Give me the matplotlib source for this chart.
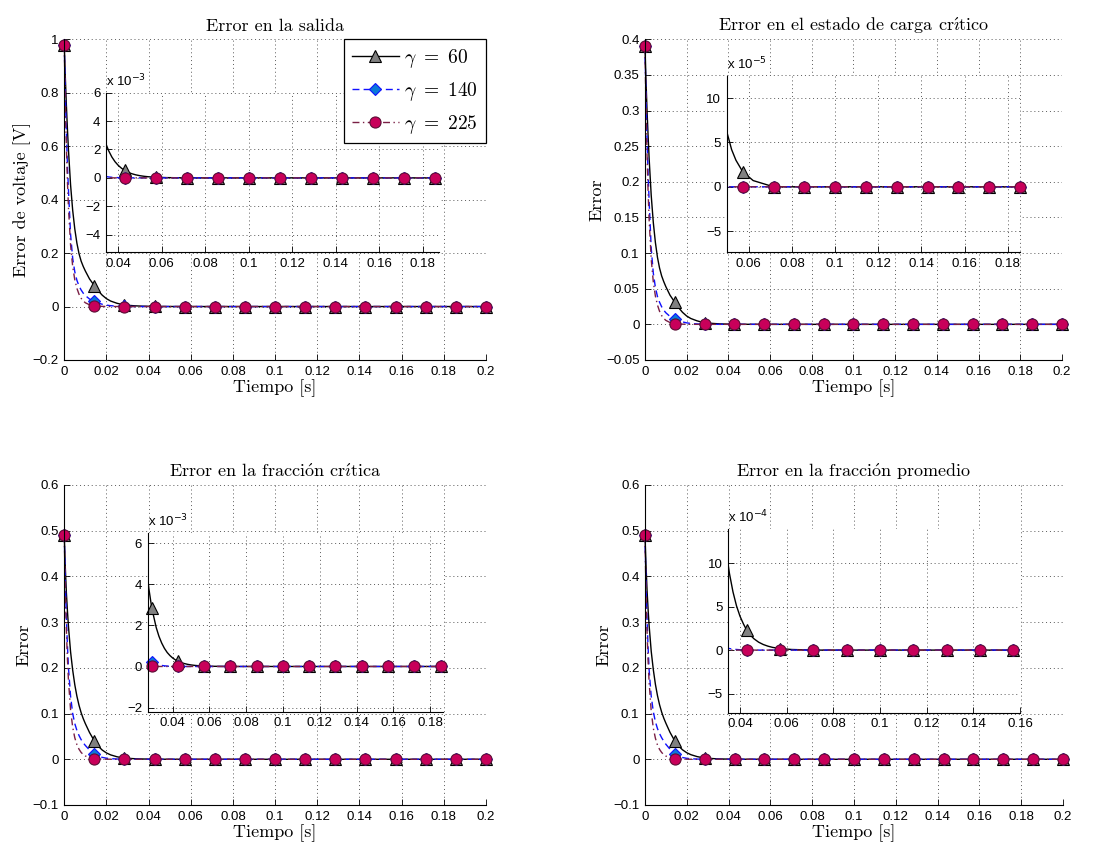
import numpy as np
import matplotlib
matplotlib.use("Agg")
import matplotlib.pyplot as plt
from matplotlib.lines import Line2D
from matplotlib.ticker import FuncFormatter, MultipleLocator

plt.rcParams['font.family'] = 'Liberation Sans'
plt.rcParams['mathtext.fontset'] = 'cm'

serif = ['cmr10', 'DejaVu Serif']

# tiempo de simulacion (s) y marcas cada 0.2/14 s
t = [0, 0.0005, 0.001, 0.0015, 0.002, 0.003, 0.004, 0.005, 0.006, 0.007,
     0.008, 0.009, 0.010, 0.012, 0.01429, 0.016, 0.018, 0.020, 0.022, 0.025,
     0.027, 0.02857, 0.031, 0.0325, 0.034, 0.0355, 0.037, 0.0385, 0.040, 0.0415,
     0.04286, 0.0445, 0.046, 0.048, 0.050, 0.052, 0.054, 0.05714, 0.062, 0.07143,
     0.08571, 0.1, 0.11429, 0.12857, 0.14286, 0.15714, 0.17143, 0.18571, 0.2]
t_marcas = [0, 0.01429, 0.02857, 0.04286, 0.05714, 0.07143, 0.08571, 0.1,
            0.11429, 0.12857, 0.14286, 0.15714, 0.17143, 0.18571, 0.2]

# error en la salida
salida_60 = [0.98, 0.86, 0.755, 0.665, 0.585, 0.455, 0.36, 0.29, 0.237, 0.198,
             0.17, 0.15, 0.133, 0.103, 0.078, 0.060, 0.0425, 0.0295, 0.0205, 0.0122,
             0.0085, 0.0064, 0.0042, 0.00324, 0.0025, 0.00192, 0.00147, 0.00113, 0.00087, 0.00067,
             0.00053, 0.000395, 0.0003, 0.000212, 0.00015, 0.000106, 7.5e-5, 4.3e-5, 1.8e-5, 0,
             0, 0, 0, 0, 0, 0, 0, 0, 0]
salida_140 = [0.98, 0.80, 0.65, 0.53, 0.435, 0.27, 0.18, 0.13, 0.098, 0.077,
              0.062, 0.05, 0.041, 0.028, 0.019, 0.0135, 0.0085, 0.0052, 0.0031, 0.0014,
              0.00079, 0.0005, 0.00025, 0.00016, 0.0001, 6.3e-5, 4e-5, 2.4e-5, 1.5e-5, 8e-6,
              0, 0, 0, 0, 0, 0, 0, 0, 0, 0,
              0, 0, 0, 0, 0, 0, 0, 0, 0]
salida_225 = [0.98, 0.76, 0.60, 0.47, 0.37, 0.23, 0.15, 0.10, 0.068, 0.046,
              0.031, 0.021, 0.014, 0.0065, 0.0028, 0.0014, 0.0006, 0.00025, 0.0001, 3e-5,
              1e-5, 0, 0, 0, 0, 0, 0, 0, 0, 0,
              0, 0, 0, 0, 0, 0, 0, 0, 0, 0,
              0, 0, 0, 0, 0, 0, 0, 0, 0]

# error en el estado de carga critico
soc_60 = [0.39, 0.342, 0.300, 0.265, 0.233, 0.181, 0.143, 0.115, 0.094, 0.079,
          0.068, 0.060, 0.053, 0.041, 0.031, 0.0239, 0.0169, 0.0117, 0.0082, 0.0049,
          0.00336, 0.0025, 0.00167, 0.00129, 0.0010, 0.00076, 0.00058, 0.00045, 0.00035, 0.00027,
          0.00021, 0.000157, 0.00012, 8.5e-5, 6e-5, 4.2e-5, 3e-5, 1.7e-5, 7e-6, 0,
          0, 0, 0, 0, 0, 0, 0, 0, 0]
soc_140 = [0.39, 0.318, 0.259, 0.211, 0.173, 0.107, 0.072, 0.052, 0.039, 0.031,
           0.0247, 0.0199, 0.0163, 0.0111, 0.0076, 0.0054, 0.0034, 0.0021, 0.00123, 0.00056,
           0.000315, 0.0002, 0.0001, 6.3e-5, 4e-5, 2.5e-5, 1.6e-5, 1e-5, 6e-6, 3e-6,
           0, 0, 0, 0, 0, 0, 0, 0, 0, 0,
           0, 0, 0, 0, 0, 0, 0, 0, 0]
soc_225 = [0.39, 0.302, 0.239, 0.187, 0.147, 0.0915, 0.0597, 0.0398, 0.0271, 0.0183,
           0.0123, 0.0084, 0.0056, 0.0026, 0.0011, 0.00056, 0.00024, 0.0001, 4e-5, 1.2e-5,
           4e-6, 0, 0, 0, 0, 0, 0, 0, 0, 0,
           0, 0, 0, 0, 0, 0, 0, 0, 0, 0,
           0, 0, 0, 0, 0, 0, 0, 0, 0]

# error en la fraccion critica
crit_60 = [0.49, 0.42, 0.365, 0.325, 0.29, 0.235, 0.195, 0.163, 0.138, 0.118,
           0.102, 0.089, 0.078, 0.0584, 0.040, 0.0292, 0.0202, 0.0139, 0.0096, 0.0055,
           0.0038, 0.00286, 0.0019, 0.00147, 0.00114, 0.00088, 0.00068, 0.00053, 0.00041, 0.00032,
           0.00025, 0.00019, 0.00015, 0.000106, 7.5e-5, 5.3e-5, 3.8e-5, 2e-5, 9e-6, 0,
           0, 0, 0, 0, 0, 0, 0, 0, 0]
crit_140 = [0.49, 0.39, 0.31, 0.25, 0.20, 0.138, 0.100, 0.078, 0.063, 0.052,
            0.043, 0.036, 0.0302, 0.0202, 0.0115, 0.0072, 0.00415, 0.0024, 0.00138, 0.0006,
            0.00036, 0.00024, 0.00012, 7.7e-5, 5e-5, 3.2e-5, 2e-5, 1.3e-5, 8e-6, 4e-6,
            0, 0, 0, 0, 0, 0, 0, 0, 0, 0,
            0, 0, 0, 0, 0, 0, 0, 0, 0]
crit_225 = [0.49, 0.37, 0.285, 0.22, 0.172, 0.108, 0.07, 0.047, 0.032, 0.022,
            0.015, 0.0104, 0.0072, 0.0035, 0.0016, 0.0008, 0.00035, 0.00015, 6e-5, 2e-5,
            7e-6, 0, 0, 0, 0, 0, 0, 0, 0, 0,
            0, 0, 0, 0, 0, 0, 0, 0, 0, 0,
            0, 0, 0, 0, 0, 0, 0, 0, 0]

# error en la fraccion promedio
prom_60 = [0.49, 0.425, 0.37, 0.328, 0.292, 0.236, 0.196, 0.164, 0.139, 0.119,
           0.103, 0.09, 0.079, 0.0588, 0.040, 0.0295, 0.0206, 0.0143, 0.0100, 0.0058,
           0.00405, 0.00306, 0.00197, 0.0015, 0.00115, 0.00088, 0.00067, 0.00051, 0.00039, 0.0003,
           0.00023, 0.000171, 0.00013, 9.1e-5, 6.4e-5, 4.5e-5, 3.1e-5, 1.8e-5, 7e-6, 0,
           0, 0, 0, 0, 0, 0, 0, 0, 0]
prom_140 = [0.49, 0.385, 0.305, 0.245, 0.195, 0.138, 0.104, 0.082, 0.067, 0.056,
            0.047, 0.0395, 0.0329, 0.0219, 0.012, 0.0071, 0.00384, 0.00207, 0.00111, 0.00044,
            0.00024, 0.000147, 7e-5, 4.4e-5, 2.8e-5, 1.75e-5, 1.1e-5, 7e-6, 4e-6, 2e-6,
            0, 0, 0, 0, 0, 0, 0, 0, 0, 0,
            0, 0, 0, 0, 0, 0, 0, 0, 0]
prom_225 = [0.49, 0.365, 0.28, 0.215, 0.168, 0.105, 0.068, 0.046, 0.031, 0.0215,
            0.0148, 0.0102, 0.007, 0.0034, 0.0015, 0.00075, 0.00033, 0.00014, 6e-5, 2e-5,
            7e-6, 0, 0, 0, 0, 0, 0, 0, 0, 0,
            0, 0, 0, 0, 0, 0, 0, 0, 0, 0,
            0, 0, 0, 0, 0, 0, 0, 0, 0]

etiquetas = [r'$\gamma\ =\ 60$', r'$\gamma\ =\ 140$', r'$\gamma\ =\ 225$']

estilos = [
    dict(color='k', ls='-', lw=1.0, marker='^', ms=8, mfc='0.5', mec='k', mew=0.8),
    dict(color='#1010ff', ls=(0, (5, 3)), lw=1.0, marker='D', ms=6.5, mfc='#0a78d8', mec='#1010ff', mew=0.8),
    dict(color='#7a1f45', ls=(0, (5, 2.5, 1, 2.5)), lw=1.0, marker='o', ms=8, mfc='#c8005a', mec='#5a0f35', mew=0.8),
]

t = np.array(t)
t_marcas = np.array(t_marcas)
idx_marcas = [int(np.argmin(np.abs(t - tm))) for tm in t_marcas]

# letras acentuadas escritas con mathtext para conservar la fuente cm
O_AGUDA = r'$\acute{\mathrm{o}}$'
I_AGUDA = r'$\acute{\mathrm{\imath}}$'


def fmt_g(v, pos):
    return ('%g' % round(v, 6)).replace('-', '\u2212')


def fmt_escala(escala):
    return FuncFormatter(lambda v, pos: ('%g' % round(v / escala, 4)).replace('-', '\u2212'))


def estilo_ejes(ax):
    for s in ['top', 'right']:
        ax.spines[s].set_visible(False)
    for s in ['left', 'bottom']:
        ax.spines[s].set_linewidth(0.8)
    ax.tick_params(direction='in', length=4, width=0.6, labelsize=9.5, pad=4,
                   top=False, right=False)
    ax.grid(True, ls=(0, (1, 3)), color='0.35', lw=0.7)
    ax.set_axisbelow(True)


fig = plt.figure(figsize=(11.04, 8.47), dpi=100)

paneles = [
    dict(rect=[0.0582, 0.575, 0.382, 0.3786], series=[salida_60, salida_140, salida_225],
         titulo='Error en la salida', ylabel='Error de voltaje [V]',
         ylim=(-0.2, 1.0), ypaso=0.2,
         inset=[0.0960, 0.7021, 0.3016, 0.1884], ixlim=(0.0343, 0.1875),
         iylim=(-5.25e-3, 6e-3), iyticks=[-4e-3, -2e-3, 0, 2e-3, 4e-3, 6e-3],
         ixticks=[0.04, 0.06, 0.08, 0.1, 0.12, 0.14, 0.16, 0.18], escala=1e-3, exp='-3'),
    dict(rect=[0.5842, 0.575, 0.3777, 0.3786], series=[soc_60, soc_140, soc_225],
         titulo='Error en el estado de carga cr' + I_AGUDA + 'tico', ylabel='Error',
         ylim=(-0.05, 0.4), ypaso=0.05,
         inset=[0.6582, 0.7021, 0.2657, 0.2081], ixlim=(0.0497, 0.1857),
         iylim=(-7.4e-5, 12.5e-5), iyticks=[-5e-5, 0, 5e-5, 10e-5],
         ixticks=[0.06, 0.08, 0.1, 0.12, 0.14, 0.16, 0.18], escala=1e-5, exp='-5'),
    dict(rect=[0.0582, 0.0496, 0.382, 0.3778], series=[crit_60, crit_140, crit_225],
         titulo='Error en la fracci' + O_AGUDA + 'n cr' + I_AGUDA + 'tica', ylabel='Error',
         ylim=(-0.1, 0.6), ypaso=0.1,
         inset=[0.1338, 0.1597, 0.2672, 0.2113], ixlim=(0.0264, 0.1869),
         iylim=(-2.2e-3, 6.5e-3), iyticks=[-2e-3, 0, 2e-3, 4e-3, 6e-3],
         ixticks=[0.04, 0.06, 0.08, 0.1, 0.12, 0.14, 0.16, 0.18], escala=1e-3, exp='-3'),
    dict(rect=[0.5842, 0.0496, 0.3786, 0.3778], series=[prom_60, prom_140, prom_225],
         titulo='Error en la fracci' + O_AGUDA + 'n promedio', ylabel='Error',
         ylim=(-0.1, 0.6), ypaso=0.1,
         inset=[0.6597, 0.1586, 0.2642, 0.2165], ixlim=(0.035, 0.16),
         iylim=(-7.2e-4, 13.9e-4), iyticks=[-5e-4, 0, 5e-4, 10e-4],
         ixticks=[0.04, 0.06, 0.08, 0.1, 0.12, 0.14, 0.16], escala=1e-4, exp='-4'),
]

for n, p in enumerate(paneles):
    ax = fig.add_axes(p['rect'])
    estilo_ejes(ax)
    for y, st in zip(p['series'], estilos):
        ax.plot(t, y, markevery=idx_marcas, clip_on=False, **st)
    ax.set_xlim(0, 0.2)
    ax.set_ylim(*p['ylim'])
    ax.xaxis.set_major_locator(MultipleLocator(0.02))
    ax.yaxis.set_major_locator(MultipleLocator(p['ypaso']))
    ax.xaxis.set_major_formatter(FuncFormatter(fmt_g))
    ax.yaxis.set_major_formatter(FuncFormatter(fmt_g))
    ax.set_title(p['titulo'], family=serif, fontsize=13, pad=6)
    ax.set_xlabel('Tiempo [s]', family=serif, fontsize=13, labelpad=1)
    ax.set_ylabel(p['ylabel'], family=serif, fontsize=13, labelpad=1)

    # ampliacion de la cola de la respuesta
    ai = fig.add_axes(p['inset'])
    ai.set_facecolor('white')
    estilo_ejes(ai)
    x0, x1 = p['ixlim']
    sel = [i for i in idx_marcas if x0 - 1e-4 <= t[i] <= x1 + 1e-4]
    for y, st in zip(p['series'], estilos):
        y = np.array(y)
        linea = {k: v for k, v in st.items() if k in ('color', 'ls', 'lw')}
        marca = {k: v for k, v in st.items() if k not in ('ls', 'lw')}
        ai.plot(t, y, **linea)
        ai.plot(t[sel], y[sel], ls='none', clip_on=False, **marca)
    ai.set_xlim(x0, x1)
    ai.set_ylim(*p['iylim'])
    ai.set_xticks(p['ixticks'])
    ai.set_yticks(p['iyticks'])
    ai.xaxis.set_major_formatter(FuncFormatter(fmt_g))
    ai.yaxis.set_major_formatter(fmt_escala(p['escala']))
    ai.text(0, 1.02, 'x 10$^{%s}$' % p['exp'].replace('-', '\u2212'), transform=ai.transAxes,
            ha='left', va='bottom', fontsize=9.5, math_fontfamily='dejavusans')

# leyenda encima del recuadro ampliado del primer panel
r = paneles[0]['rect']
manejadores = [Line2D([], [], **st) for st in estilos]
ley = fig.legend(manejadores, etiquetas, loc='upper right',
                 bbox_to_anchor=(r[0] + r[2], r[1] + r[3]), borderaxespad=0,
                 fontsize=14, frameon=True, fancybox=False, framealpha=1,
                 edgecolor='k', handlelength=2.4, handletextpad=0.3,
                 labelspacing=0.5, borderpad=0.4)
ley.get_frame().set_linewidth(0.9)

fig.savefig('out.png', dpi=100, facecolor='white')
